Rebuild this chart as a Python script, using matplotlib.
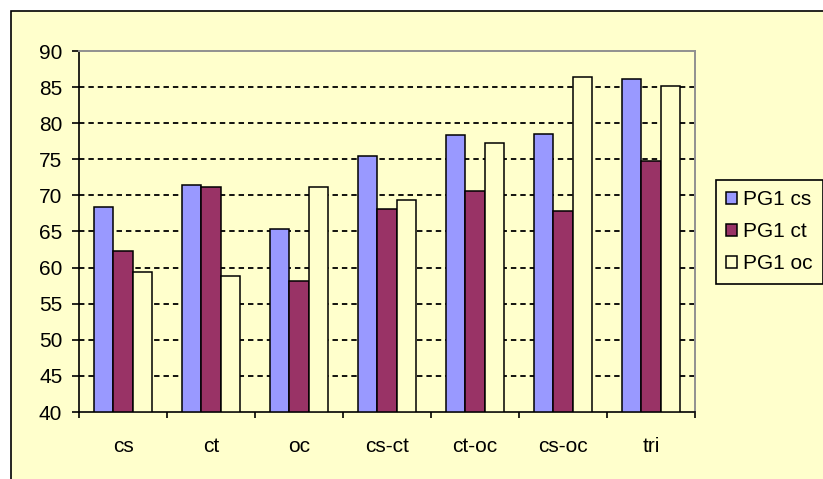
import matplotlib
matplotlib.use("Agg")
import matplotlib.pyplot as plt
import numpy as np
from matplotlib.patches import Rectangle

plt.rcParams['font.family'] = ['Liberation Sans', 'DejaVu Sans']

categories = ['cs', 'ct', 'oc', 'cs-ct', 'ct-oc', 'cs-oc', 'tri']
pg1_cs = [68.4, 71.4, 65.4, 75.4, 78.3, 78.5, 86.1]
pg1_ct = [62.3, 71.2, 58.1, 68.1, 70.6, 67.8, 74.7]
pg1_oc = [59.4, 58.9, 71.2, 69.4, 77.2, 86.4, 85.1]
series_names = ['PG1 cs', 'PG1 ct', 'PG1 oc']
y_ticks = [40, 45, 50, 55, 60, 65, 70, 75, 80, 85, 90]

bg = '#FFFFCC'
colors = ['#9999FF', '#993366', '#FFFFCC']

W, H = 823, 479
fig = plt.figure(figsize=(W / 100, H / 100), dpi=100)
fig.patch.set_facecolor('white')

# chart area frame (runs off the right and bottom edges)
fig.patches.append(Rectangle((11 / W, -0.05), 1.05, 1 - 11 / H + 0.05,
                             transform=fig.transFigure, facecolor=bg,
                             edgecolor='black', linewidth=1.2, zorder=-10))

ax = fig.add_axes([79 / W, (H - 412) / H, 616 / W, 361 / H])
ax.set_facecolor(bg)

x = np.arange(len(categories))
bw = 0.222
for i, (vals, c, name) in enumerate(zip([pg1_cs, pg1_ct, pg1_oc], colors, series_names)):
    ax.bar(x + (i - 1) * bw, np.array(vals) - 40, bottom=40, width=bw,
           color=c, edgecolor='black', linewidth=1.1, label=name, zorder=3)

ax.set_xlim(-0.5, len(categories) - 0.5)
ax.set_ylim(40, 90)
ax.set_yticks(y_ticks)
for v in y_ticks[1:-1]:
    ax.axhline(v, color='black', linestyle=(0, (3, 2.2)), linewidth=1.3, zorder=1)

ax.set_xticks(x)
ax.set_xticklabels(categories)
ax.set_xticks(np.arange(len(categories) + 1) - 0.5, minor=True)
ax.tick_params(axis='x', which='major', length=0, pad=18, labelsize=15)
ax.tick_params(axis='x', which='minor', length=4, width=1.2, direction='out')
ax.tick_params(axis='y', length=5, width=1.2, pad=7, labelsize=15)

for side in ['left', 'bottom']:
    ax.spines[side].set_color('black')
    ax.spines[side].set_linewidth(1.2)
for side in ['top', 'right']:
    ax.spines[side].set_color('#909090')
    ax.spines[side].set_linewidth(1.4)

leg = ax.legend(loc='upper left', bbox_to_anchor=(716 / W, 1 - 180 / H),
                bbox_transform=fig.transFigure, borderaxespad=0,
                fontsize=15, frameon=True, fancybox=False,
                handlelength=0.5, handleheight=0.5, handletextpad=0.3,
                labelspacing=0.62, borderpad=0.5)
leg.get_frame().set_facecolor(bg)
leg.get_frame().set_edgecolor('black')
leg.get_frame().set_linewidth(1.2)
leg.get_frame().set_alpha(1)

fig.savefig('out.png', dpi=100, facecolor=fig.get_facecolor())
